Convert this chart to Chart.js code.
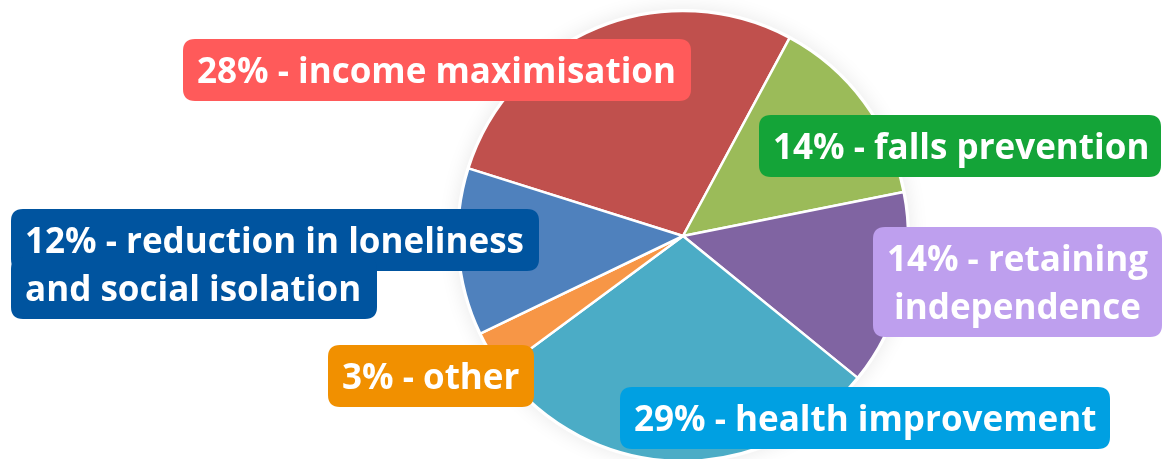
<!DOCTYPE html>
<html>
<head>
<meta charset="utf-8">
<script src="https://cdn.jsdelivr.net/npm/chart.js@4/dist/chart.umd.min.js"></script>
<style>
  html, body { margin: 0; padding: 0; background: #ffffff; }
  #wrap { position: relative; width: 1163px; height: 459px; overflow: hidden; }
</style>
</head>
<body>
<div id="wrap"><canvas id="c" width="1163" height="459"></canvas></div>
<script>
// ---- data ----
const categories = ["income maximisation", "falls prevention", "retaining independence", "health improvement", "other", "reduction in loneliness and social isolation"];
const shares = [28, 14, 14, 29, 3, 12];
const sliceColors = ["#C0504D", "#9BBB59", "#8064A2", "#4BACC6", "#F79646", "#4F81BD"];
const labelColors = ["#FF5A5A", "#14A438", "#BE9FEE", "#00A0E2", "#F19000", "#00549F"];
const labelLines = [
  ["income maximisation"],
  ["falls prevention"],
  ["retaining", "independence"],
  ["health improvement"],
  ["other"],
  ["reduction in loneliness", "and social isolation"]
];

// ---- layout of the callout boxes (positions/styles only) ----
const labelLayout = [
  { x: 183, y: 39, widths: [508], align: "left", mode: "block" },
  { x: 759, y: 115, widths: [402], align: "left", mode: "block" },
  { x: 873, y: 227, widths: [289], align: "center", mode: "block" },
  { x: 620, y: 387, widths: [490], align: "left", mode: "block" },
  { x: 328, y: 345, widths: [206], align: "left", mode: "block" },
  { x: 11, y: 209, widths: [528, 366], align: "left", mode: "perLine" }
];

const FONT = "bold 35px 'Open Sans', 'Noto Sans', sans-serif";
const BOX_H = 62, STEP = 48, PAD = 14, RADIUS = 12, BASE = 44;

function rr(ctx, x, y, w, h, r) {
  ctx.beginPath();
  ctx.moveTo(x + r, y);
  ctx.lineTo(x + w - r, y);
  ctx.quadraticCurveTo(x + w, y, x + w, y + r);
  ctx.lineTo(x + w, y + h - r);
  ctx.quadraticCurveTo(x + w, y + h, x + w - r, y + h);
  ctx.lineTo(x + r, y + h);
  ctx.quadraticCurveTo(x, y + h, x, y + h - r);
  ctx.lineTo(x, y + r);
  ctx.quadraticCurveTo(x, y, x + r, y);
  ctx.closePath();
}

const shadowPlugin = {
  id: "pieShadow",
  beforeDatasetsDraw(chart) {
    const arc = chart.getDatasetMeta(0).data[0];
    if (!arc) return;
    const ctx = chart.ctx;
    ctx.save();
    ctx.shadowColor = "rgba(0,0,0,0.09)";
    ctx.shadowBlur = 20;
    ctx.fillStyle = "#ffffff";
    ctx.beginPath();
    ctx.arc(arc.x, arc.y, arc.outerRadius + 2, 0, Math.PI * 2);
    ctx.fill();
    ctx.restore();
  }
};

const calloutPlugin = {
  id: "callouts",
  afterDatasetsDraw(chart) {
    const ctx = chart.ctx;
    ctx.save();
    ctx.font = FONT;
    ctx.textBaseline = "alphabetic";
    shares.forEach((v, i) => {
      const L = labelLayout[i];
      const lines = labelLines[i].slice();
      lines[0] = v + "% - " + lines[0];
      ctx.fillStyle = labelColors[i];
      if (L.mode === "block") {
        const h = BOX_H + STEP * (lines.length - 1);
        rr(ctx, L.x, L.y, L.widths[0], h, RADIUS);
        ctx.fill();
      } else {
        lines.forEach((ln, k) => {
          rr(ctx, L.x, L.y + k * STEP, L.widths[k], BOX_H, RADIUS);
          ctx.fill();
        });
      }
      ctx.fillStyle = "#ffffff";
      lines.forEach((ln, k) => {
        const by = L.y + BASE + k * STEP;
        if (L.align === "center") {
          ctx.textAlign = "center";
          ctx.fillText(ln, L.x + L.widths[0] / 2, by);
        } else {
          ctx.textAlign = "left";
          ctx.fillText(ln, L.x + PAD, by);
        }
      });
    });
    ctx.restore();
  }
};

new Chart(document.getElementById("c"), {
  type: "pie",
  data: {
    labels: categories,
    datasets: [{
      data: shares,
      backgroundColor: sliceColors,
      borderColor: "#ffffff",
      borderWidth: 2.5,
      clip: false
    }]
  },
  options: {
    responsive: false,
    animation: false,
    rotation: -72.5,
    radius: 225,
    layout: { padding: { left: 203, right: 0, top: 13, bottom: 0 } },
    plugins: {
      legend: { display: false },
      tooltip: { enabled: false },
      title: { display: false }
    }
  },
  plugins: [shadowPlugin, calloutPlugin]
});
</script>
</body>
</html>
